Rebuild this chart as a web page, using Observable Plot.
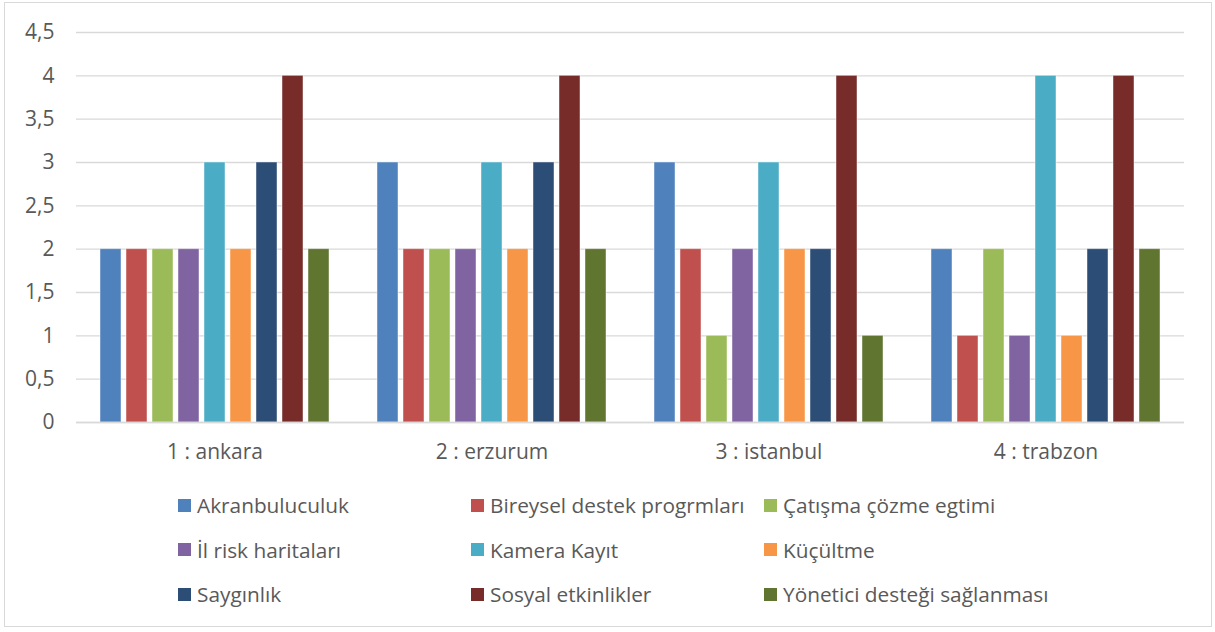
<!DOCTYPE html>
<html>
<head>
<meta charset="utf-8">
<script src="https://cdn.jsdelivr.net/npm/d3@7"></script>
<script src="https://cdn.jsdelivr.net/npm/@observablehq/plot@0.6"></script>
<style>
  html, body { margin: 0; padding: 0; background: #fff; }
  #wrap { position: relative; width: 1215px; height: 632px; font-family: "Open Sans", sans-serif; color: #595959; }
  #frame { position: absolute; left: 4px; top: 2px; width: 1208px; height: 625px; border: 1px solid #d9d9d9; box-sizing: border-box; }
  #chart { position: absolute; left: 0; top: 0; }
  #legend { position: absolute; left: 178px; top: 483px; display: grid; grid-template-columns: 293px 293px 293px; grid-auto-rows: 44.5px; }
  .item { display: flex; align-items: center; font-size: 20.8px; white-space: nowrap; }
  .sw { width: 13px; height: 13px; margin-right: 6px; flex: none; }
</style>
</head>
<body>
<div id="wrap">
  <div id="frame"></div>
  <div id="chart"></div>
  <div id="legend"></div>
</div>
<script>
const groups = ["1 : ankara", "2 : erzurum", "3 : istanbul", "4 : trabzon"];
const series = ["Akranbuluculuk", "Bireysel destek progrmları", "Çatışma çözme egtimi", "İl risk haritaları", "Kamera Kayıt", "Küçültme", "Saygınlık", "Sosyal etkinlikler", "Yönetici desteği sağlanması"];
const colors = ["#4F81BD", "#C0504D", "#9BBB59", "#8064A2", "#4BACC6", "#F79646", "#2C4D75", "#772C2A", "#5F7530"];
const ankara   = [2, 2, 2, 2, 3, 2, 3, 4, 2];
const erzurum  = [3, 2, 2, 2, 3, 2, 3, 4, 2];
const istanbul = [3, 2, 1, 2, 3, 2, 2, 4, 1];
const trabzon  = [2, 1, 2, 1, 4, 1, 2, 4, 2];
const yTicks = [0, 0.5, 1, 1.5, 2, 2.5, 3, 3.5, 4, 4.5];

const valuesByGroup = [ankara, erzurum, istanbul, trabzon];
const data = [];
groups.forEach((g, gi) => series.forEach((s, si) => data.push({group: g, series: s, value: valuesByGroup[gi][si]})));

const chart = Plot.plot({
  width: 1215,
  height: 475,
  marginLeft: 75,
  marginRight: 30,
  marginTop: 32,
  marginBottom: 53,
  style: {fontFamily: "Open Sans, sans-serif", fontSize: "21px", color: "#595959", background: "transparent"},
  fx: {domain: groups, padding: 0, axis: null, label: null},
  x: {domain: series, axis: null, paddingInner: 0.2, paddingOuter: 0.82},
  y: {domain: [0, 4.5], ticks: yTicks, tickSize: 0, tickPadding: 22, label: null,
      tickFormat: d => String(d).replace(".", ",")},
  color: {domain: series, range: colors},
  marks: [
    Plot.gridY(yTicks, {stroke: "#d9d9d9", strokeOpacity: 1, strokeWidth: 1.3}),
    Plot.barY(data, {fx: "group", x: "series", y: "value", fill: "series", stroke: "#ffffff", strokeOpacity: 0.45, strokeWidth: 1}),
    Plot.ruleY([0], {stroke: "#d9d9d9", strokeWidth: 1.5}),
    Plot.text(groups, {fx: d => d, text: d => d, frameAnchor: "bottom", dy: 36, fill: "#595959", fontSize: 21})
  ]
});
document.getElementById("chart").appendChild(chart);

const legend = document.getElementById("legend");
series.forEach((s, i) => {
  const item = document.createElement("div");
  item.className = "item";
  const sw = document.createElement("span");
  sw.className = "sw";
  sw.style.background = colors[i];
  const t = document.createElement("span");
  t.textContent = s;
  item.appendChild(sw);
  item.appendChild(t);
  legend.appendChild(item);
});
</script>
</body>
</html>
